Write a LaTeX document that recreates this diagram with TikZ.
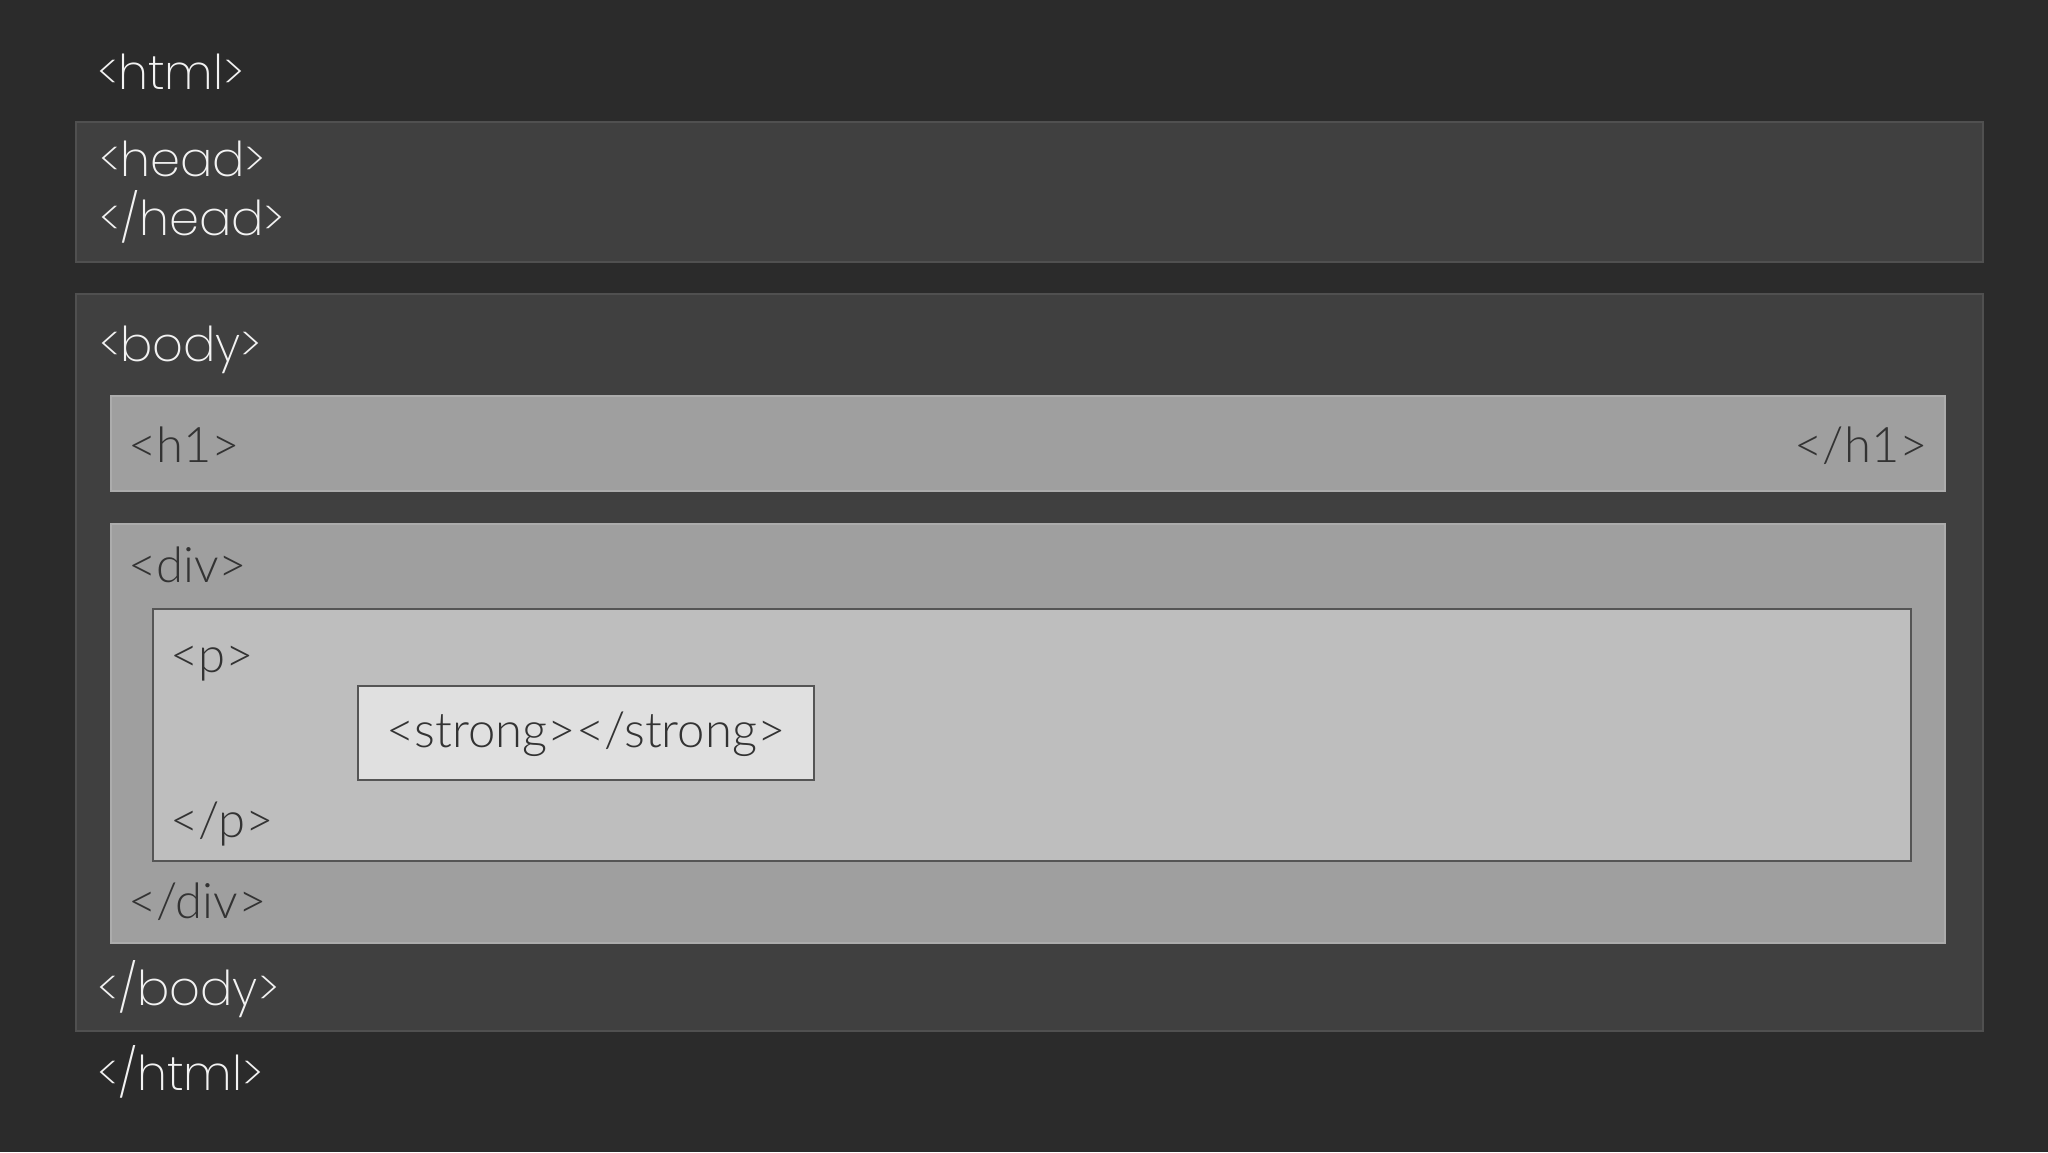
\documentclass[tikz,border=0pt]{standalone}
\usepackage{fontspec}
\IfFontExistsTF{Lato Light}{\setmainfont{Lato Light}}{\setmainfont{Lato}}
\IfFontExistsTF{Poppins ExtraLight}{\newfontfamily\whitefont{Poppins ExtraLight}}{%
  \IfFontExistsTF{Poppins Light}{\newfontfamily\whitefont{Poppins Light}}{\newfontfamily\whitefont{Poppins}}}
\definecolor{bgc}{HTML}{2B2B2B}
\definecolor{darkbox}{HTML}{404040}
\definecolor{darkedge}{HTML}{505050}
\definecolor{midbox}{HTML}{9F9F9F}
\definecolor{midedge}{HTML}{ACACAC}
\definecolor{litebox}{HTML}{BEBEBE}
\definecolor{litest}{HTML}{E0E0E0}
\definecolor{boxedge}{HTML}{555555}
\definecolor{whitetext}{HTML}{F2F2F2}
\definecolor{darktext}{HTML}{333333}
\begin{document}
\begin{tikzpicture}[x=1pt,y=-1pt,
  every node/.style={inner sep=0pt, outer sep=0pt},
  boxbase/.style={anchor=north west, rectangle},
  outerbox/.style={boxbase, fill=darkbox, draw=darkedge, line width=2pt},
  middlebox/.style={boxbase, fill=midbox, draw=midedge, line width=1.5pt},
  innerbox/.style={boxbase, fill=litebox, draw=boxedge, line width=2pt},
  strongbox/.style={boxbase, fill=litest, draw=boxedge, line width=2pt},
  wt/.style={text=whitetext, font=\whitefont\fontsize{48}{57}\selectfont},
  dt/.style={text=darktext, font=\fontsize{49}{58}\selectfont}]
\fill[bgc] (0,0) rectangle (2048,1152);
\useasboundingbox (0,0) rectangle (2048,1152);
% boxes
\node[outerbox, minimum width=1907pt, minimum height=140pt] (head) at (76,122) {};
\node[outerbox, minimum width=1907pt, minimum height=737pt] (body) at (76,294) {};
\node[middlebox, minimum width=1834pt, minimum height=95pt] (h1) at (111,396) {};
\node[middlebox, minimum width=1834pt, minimum height=419pt] (div) at (111,524) {};
\node[innerbox, minimum width=1758pt, minimum height=252pt] (p) at (153,609) {};
\node[strongbox, minimum width=456pt, minimum height=94pt] (strong) at (358,686) {};
% labels
\node[wt, anchor=base west] (htmlopen) at (97,89) {<html>};
\node[wt, anchor=base west] (headopen) at (99,176) {<head>};
\node[wt, anchor=base west] (headclose) at (99,235) {</head>};
\node[wt, anchor=base west] (bodyopen) at (99,361) {<body>};
\node[dt, anchor=base west] (h1open) at (128,462) {<h1>};
\node[dt, anchor=base east] (h1close) at (1928,462) {</h1>};
\node[dt, anchor=base west] (divopen) at (128,582) {<div>};
\node[dt, anchor=base west] (popen) at (170,672) {<p>};
\node[dt, anchor=base] (strongtext) at (strong.center |- 0,747) {<strong></strong>};
\node[dt, anchor=base west] (pclose) at (170,837) {</p>};
\node[dt, anchor=base west] (divclose) at (128,918) {</div>};
\node[wt, anchor=base west] (bodyclose) at (97,1005) {</body>};
\node[wt, anchor=base west] (htmlclose) at (97,1090) {</html>};
\end{tikzpicture}
\end{document}
